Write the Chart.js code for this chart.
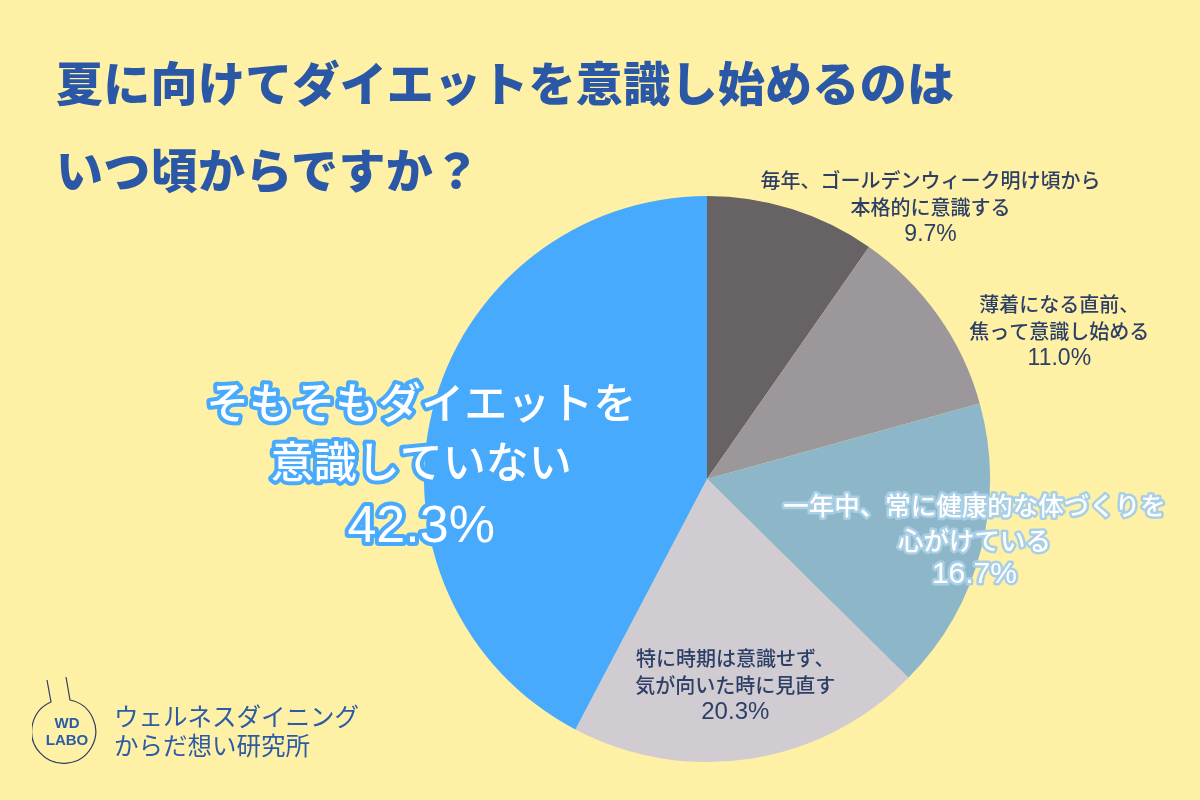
<!DOCTYPE html>
<html>
<head>
<meta charset="utf-8">
<script src="https://cdn.jsdelivr.net/npm/chart.js@4/dist/chart.umd.min.js"></script>
<style>
  body { margin: 0; background: #fef1a6; font-family: "Noto Sans CJK JP", sans-serif; }
  #wrap { position: relative; width: 1200px; height: 800px; overflow: hidden; }
  #chart { position: absolute; left: 0; top: 0; }
  .title { position: absolute; left: 56px; color: #2b58a6; font-weight: 900; font-size: 47px; line-height: 1; white-space: nowrap; letter-spacing: 0.3px; }
  .logo { position: absolute; left: 32px; top: 674px; }
  .brand { position: absolute; left: 114px; color: #2c5ba8; font-size: 24.5px; line-height: 1; white-space: nowrap; }
</style>
</head>
<body>
<div id="wrap">
  <canvas id="chart" width="1200" height="800"></canvas>
  <div class="title" style="top:57px">夏に向けてダイエットを意識し始めるのは</div>
  <div class="title" style="top:144px">いつ頃からですか？</div>
  <svg class="logo" width="80" height="100" viewBox="0 0 80 100">
    <path d="M15 6 L19 28 A32 32 0 1 0 38 26 L34 3" fill="none" stroke="#2d3f66" stroke-width="1.2"/>
    <text x="35" y="54" text-anchor="middle" font-family="Liberation Sans, Arial" font-weight="700" font-size="15" fill="#2c5ba8">WD</text>
    <text x="35" y="71" text-anchor="middle" font-family="Liberation Sans, Arial" font-weight="700" font-size="15" fill="#2c5ba8">LABO</text>
  </svg>
  <div class="brand" style="top:704px">ウェルネスダイニング</div>
  <div class="brand" style="top:733px">からだ想い研究所</div>
</div>
<script>
// answers, clockwise from 12 o'clock
const categories = [
  ["毎年、ゴールデンウィーク明け頃から", "本格的に意識する"],
  ["薄着になる直前、", "焦って意識し始める"],
  ["一年中、常に健康的な体づくりを", "心がけている"],
  ["特に時期は意識せず、", "気が向いた時に見直す"],
  ["そもそもダイエットを", "意識していない"]
];
const values = [9.7, 11.0, 16.7, 20.3, 42.3];
const colors = ["#676264", "#9b979a", "#8db7c9", "#d0ccd1", "#48aafc"];

// where each label sits, in units of the pie radius from its centre
const labelStyle = [
  { fx: 0.79, fy: -0.96, size: 20, lh: 27, pctSize: 23, fill: "#2d3f66" },
  { fx: 1.245, fy: -0.52, size: 20, lh: 27, pctSize: 23, fill: "#2d3f66" },
  { fx: 0.945, fy: 0.215, size: 25.5, lh: 35, pctSize: 30, fill: "#ffffff", stroke: "#a8cfe6", sw: 5 },
  { fx: 0.10, fy: 0.73, size: 20, lh: 27, pctSize: 24, fill: "#2d3f66" },
  { fx: -1.01, fy: -0.06, size: 43, lh: 59, pctSize: 52, pctGap: 7, fill: "#ffffff", stroke: "#48aafc", sw: 8 }
];

const labelPlugin = {
  id: "sliceLabels",
  afterDatasetsDraw(chart) {
    const ctx = chart.ctx;
    const arcs = chart.getDatasetMeta(0).data;
    arcs.forEach((arc, i) => {
      const st = labelStyle[i];
      const r = arc.outerRadius;
      const x = arc.x + st.fx * r;
      const y = arc.y + st.fy * r;
      const lines = categories[i].concat([values[i].toFixed(1) + "%"]);
      const top = y - (lines.length - 1) * st.lh / 2;
      ctx.save();
      ctx.textAlign = "center";
      ctx.textBaseline = "middle";
      ctx.lineJoin = "round";
      lines.forEach((line, j) => {
        const isPct = j === lines.length - 1;
        const size = isPct ? st.pctSize : st.size;
        ctx.font = isPct ? size + 'px "Liberation Sans", sans-serif' : '500 ' + size + 'px "Noto Sans CJK JP"';
        const ly = top + j * st.lh + (isPct && st.pctGap ? st.pctGap : 0);
        if (st.stroke) {
          ctx.strokeStyle = st.stroke;
          ctx.lineWidth = st.sw;
          ctx.strokeText(line, x, ly);
        }
        ctx.fillStyle = st.fill;
        ctx.fillText(line, x, ly);
      });
      ctx.restore();
    });
  }
};

new Chart(document.getElementById("chart").getContext("2d"), {
  type: "pie",
  data: {
    labels: categories.map(c => c.join("")),
    datasets: [{
      data: values,
      backgroundColor: colors,
      borderWidth: 0
    }]
  },
  options: {
    responsive: false,
    animation: false,
    layout: { padding: { top: 196, bottom: 38, left: 424, right: 210 } },
    plugins: {
      legend: { display: false },
      tooltip: { enabled: false }
    }
  },
  plugins: [labelPlugin]
});
</script>
</body>
</html>
